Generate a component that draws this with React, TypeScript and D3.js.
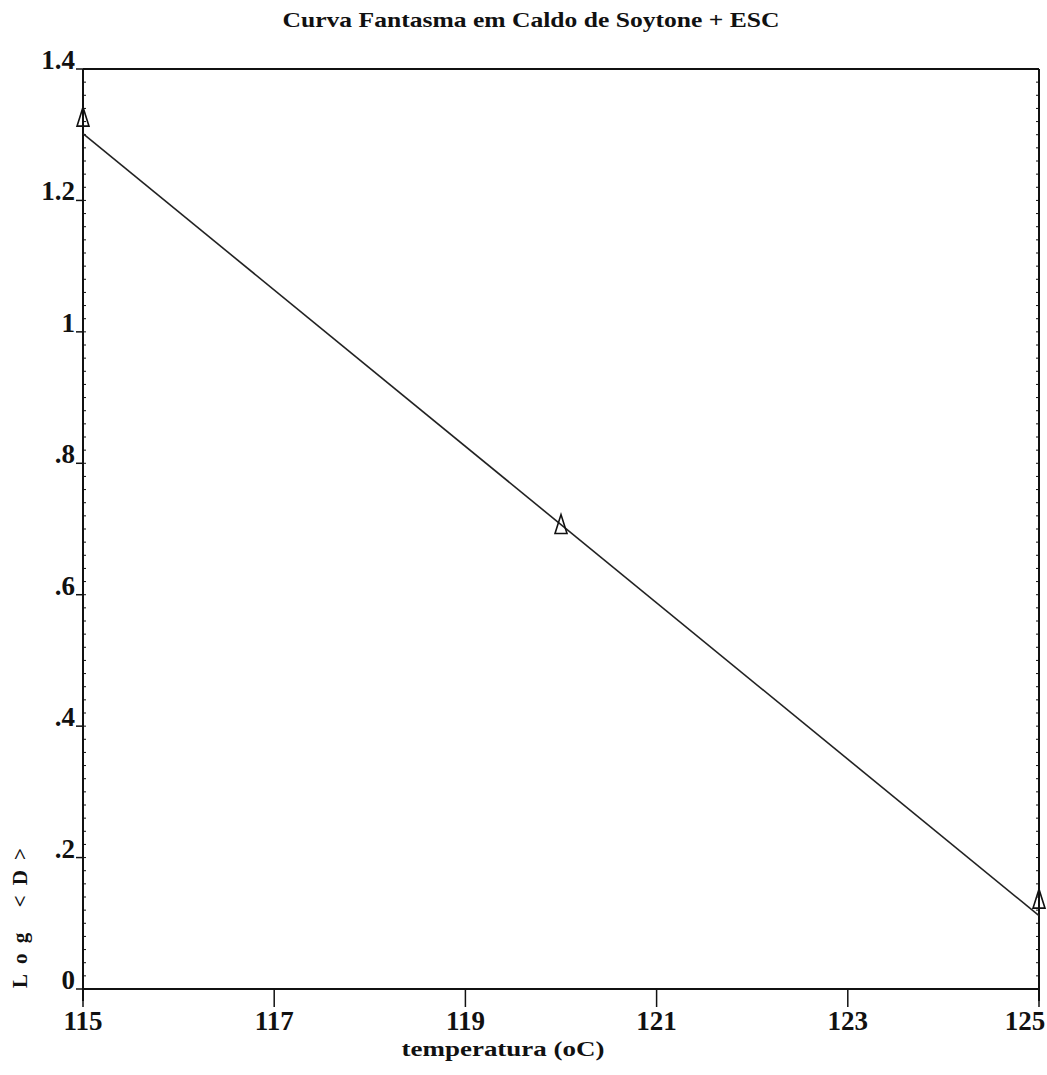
import React, { useEffect } from "react";
import * as d3 from "d3";

// Measured points: temperature (oC) vs log of D value
const temperatures = [115, 120, 125];
const logD = [1.31, 0.69, 0.12];

const xTicks = [115, 117, 119, 121, 123, 125];
const yTicks = [0, 0.2, 0.4, 0.6, 0.8, 1.0, 1.2, 1.4];
const yTickLabels = ["0", ".2", ".4", ".6", ".8", "1", "1.2", "1.4"];

const titleText = "Curva Fantasma em Caldo de Soytone + ESC";
const xTitle = "temperatura (oC)";
const yTitle = "Log <D>";

const W = 1047;
const H = 1075;
const M = { left: 83, right: 1039, top: 69, bottom: 989 };
const FONT = "'Liberation Serif', 'DejaVu Serif', serif";
const INK = "#111";

// least-squares fit through the measured points
function fit(xs: number[], ys: number[]) {
  const mx = d3.mean(xs) as number;
  const my = d3.mean(ys) as number;
  let sxy = 0;
  let sxx = 0;
  xs.forEach((x, i) => {
    sxy += (x - mx) * (ys[i] - my);
    sxx += (x - mx) * (x - mx);
  });
  const slope = sxy / sxx;
  return (x: number) => my + slope * (x - mx);
}

export default function App() {
  useEffect(() => {
    document.body.style.margin = "0";
  }, []);

  const x = d3.scaleLinear().domain([115, 125]).range([M.left, M.right]);
  const y = d3.scaleLinear().domain([0, 1.4]).range([M.bottom, M.top]);

  const f = fit(temperatures, logD);
  const [x0, x1] = x.domain();
  const fitPts: [number, number][] = [
    [x0, f(x0)],
    [x1, f(x1)],
  ];
  const linePath = d3
    .line<[number, number]>()
    .x((d) => x(d[0]))
    .y((d) => y(d[1]))(fitPts) as string;

  const minorY = d3.range(0, 1.4001, 0.02);

  // open triangle sitting on the point
  const tri = (px: number, py: number) =>
    `M${px - 6},${py - 2} L${px},${py - 21} L${px + 6},${py - 2} Z`;

  return (
    <svg width={W} height={H} style={{ display: "block", background: "#fff" }}>
      <text
        x={531}
        y={27}
        textAnchor="middle"
        fontFamily={FONT}
        fontWeight="bold"
        fontSize={22}
        textLength={497}
        lengthAdjust="spacingAndGlyphs"
        fill={INK}
      >
        {titleText}
      </text>

      {/* frame */}
      <g stroke={INK} fill="none">
        <line x1={M.left} x2={M.right} y1={M.top} y2={M.top} strokeWidth={2} />
        <line x1={M.right} x2={M.right} y1={M.top} y2={M.bottom + 12} strokeWidth={2} />
        <line x1={M.left} x2={M.left} y1={M.top} y2={M.bottom + 12} strokeWidth={2} />
        <line x1={M.left} x2={M.right} y1={M.bottom} y2={M.bottom} strokeWidth={2} />
      </g>

      {/* minor ticks on both vertical axes */}
      <g stroke={INK} strokeWidth={1}>
        {minorY.map((v, i) => (
          <g key={i}>
            <line x1={M.left} x2={M.left + 3} y1={y(v)} y2={y(v)} />
            <line x1={M.right - 3} x2={M.right} y1={y(v)} y2={y(v)} />
          </g>
        ))}
      </g>

      {/* y axis */}
      <g fontFamily={FONT} fontWeight="bold" fontSize={27} fill={INK}>
        {yTicks.map((v, i) => (
          <g key={v}>
            <line x1={M.left - 7} x2={M.left} y1={y(v)} y2={y(v)} stroke={INK} strokeWidth={1.5} />
            <text x={M.left - 8} y={y(v)} textAnchor="end">
              {yTickLabels[i]}
            </text>
          </g>
        ))}
      </g>

      {/* x axis */}
      <g fontFamily={FONT} fontWeight="bold" fontSize={27} fill={INK}>
        {xTicks.map((v) => (
          <g key={v}>
            <line x1={x(v)} x2={x(v)} y1={M.bottom} y2={M.bottom + 18} stroke={INK} strokeWidth={1.5} />
            <text x={Math.min(x(v), W - 22)} y={M.bottom + 41} textAnchor="middle">
              {v}
            </text>
          </g>
        ))}
      </g>

      <text
        x={503}
        y={1056}
        textAnchor="middle"
        fontFamily={FONT}
        fontWeight="bold"
        fontSize={21}
        textLength={203}
        lengthAdjust="spacingAndGlyphs"
        fill={INK}
      >
        {xTitle}
      </text>

      <text
        transform="translate(27,918) rotate(-90)"
        textAnchor="middle"
        fontFamily={FONT}
        fontWeight="bold"
        fontSize={21}
        textLength={140}
        lengthAdjust="spacing"
        fill={INK}
      >
        {yTitle}
      </text>

      {/* fitted line */}
      <path d={linePath} fill="none" stroke="#222" strokeWidth={1.6} />

      {/* measured points */}
      <g fill="none" stroke={INK} strokeWidth={1.6}>
        {temperatures.map((t, i) => (
          <path key={t} d={tri(x(t), y(logD[i]))} />
        ))}
      </g>
    </svg>
  );
}
